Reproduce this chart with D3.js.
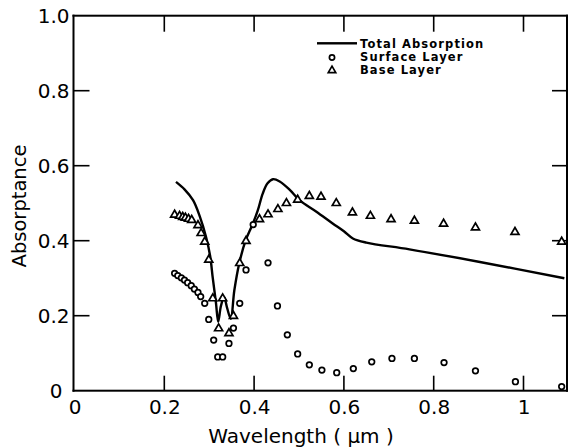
<!DOCTYPE html>
<html>
<head>
<meta charset="utf-8">
<script src="https://cdn.jsdelivr.net/npm/d3@7"></script>
<style>
  body { margin: 0; background: #fff; }
  svg { display: block; }
  text { font-family: "DejaVu Sans", sans-serif; fill: #000; }
</style>
</head>
<body>
<svg id="chart" width="569" height="448"></svg>
<script>
// Total absorption curve (wavelength um, absorptance)
const totalWl = [0.226, 0.245, 0.264, 0.279, 0.293, 0.302, 0.308, 0.315, 0.320, 0.326, 0.333, 0.340, 0.348, 0.356, 0.367, 0.381, 0.396, 0.408, 0.419, 0.430, 0.442, 0.457, 0.480, 0.501, 0.538, 0.575, 0.600, 0.620, 0.650, 0.746, 0.900, 1.091];
const totalAbs = [0.557, 0.537, 0.508, 0.465, 0.410, 0.360, 0.300, 0.235, 0.184, 0.225, 0.250, 0.220, 0.192, 0.268, 0.340, 0.400, 0.442, 0.480, 0.525, 0.553, 0.564, 0.558, 0.535, 0.508, 0.478, 0.446, 0.425, 0.406, 0.395, 0.377, 0.344, 0.300];

// Surface layer (circles)
const surfWl = [0.223, 0.230, 0.238, 0.245, 0.252, 0.260, 0.267, 0.275, 0.281, 0.290, 0.299, 0.310, 0.319, 0.330, 0.344, 0.354, 0.368, 0.382, 0.398, 0.431, 0.452, 0.474, 0.497, 0.523, 0.551, 0.584, 0.621, 0.662, 0.707, 0.757, 0.823, 0.893, 0.982, 1.085];
const surfAbs = [0.313, 0.307, 0.301, 0.295, 0.288, 0.280, 0.271, 0.262, 0.251, 0.233, 0.190, 0.135, 0.090, 0.090, 0.126, 0.167, 0.233, 0.322, 0.443, 0.341, 0.226, 0.149, 0.098, 0.069, 0.055, 0.048, 0.059, 0.077, 0.086, 0.086, 0.075, 0.053, 0.024, 0.011];

// Base layer (triangles)
const baseWl = [0.223, 0.234, 0.241, 0.247, 0.254, 0.261, 0.275, 0.282, 0.290, 0.299, 0.308, 0.321, 0.330, 0.344, 0.354, 0.368, 0.382, 0.412, 0.431, 0.453, 0.472, 0.497, 0.523, 0.549, 0.583, 0.619, 0.659, 0.705, 0.757, 0.822, 0.893, 0.981, 1.085];
const baseAbs = [0.469, 0.466, 0.463, 0.461, 0.458, 0.455, 0.441, 0.420, 0.397, 0.349, 0.246, 0.166, 0.246, 0.153, 0.199, 0.340, 0.399, 0.457, 0.470, 0.484, 0.500, 0.509, 0.519, 0.517, 0.500, 0.475, 0.466, 0.457, 0.453, 0.445, 0.435, 0.423, 0.397];

const xTicks = [0, 0.2, 0.4, 0.6, 0.8, 1];
const yTicks = [0, 0.2, 0.4, 0.6, 0.8, 1.0];
const legendLabels = ["Total Absorption", "Surface Layer", "Base Layer"];

const svg = d3.select("#chart");
const plotLeft = 74.5, plotRight = 567, plotTop = 15.7, plotBottom = 390.7;

const x = d3.scaleLinear().domain([0, 1]).range([plotLeft, plotLeft + 449]);
const y = d3.scaleLinear().domain([0, 1]).range([plotBottom, plotTop]);

const tickLen = 15;
const frameW = 2;
const tickW = 1.6;

// frame as four filled bars
const frame = svg.append("g").attr("class", "frame");
frame.append("rect").attr("x", plotLeft - 2).attr("y", plotTop - 1).attr("width", plotRight - plotLeft + 3).attr("height", frameW).attr("fill", "#000");
frame.append("rect").attr("x", plotLeft - 2).attr("y", plotBottom - 1).attr("width", plotRight - plotLeft + 3).attr("height", frameW).attr("fill", "#000");
frame.append("rect").attr("x", plotLeft - 2).attr("y", plotTop - 1).attr("width", frameW).attr("height", plotBottom - plotTop + 2).attr("fill", "#000");
frame.append("rect").attr("x", plotRight - 1).attr("y", plotTop - 1).attr("width", frameW).attr("height", plotBottom - plotTop + 2).attr("fill", "#000");

// inward tick marks on all four sides
frame.selectAll(".tb").data(xTicks.slice(1)).enter().append("rect")
  .attr("x", d => x(d) - tickW / 2).attr("y", plotBottom - tickLen)
  .attr("width", tickW).attr("height", tickLen).attr("fill", "#000");
frame.selectAll(".tt").data(xTicks.slice(1)).enter().append("rect")
  .attr("x", d => x(d) - tickW / 2).attr("y", plotTop)
  .attr("width", tickW).attr("height", tickLen + 1).attr("fill", "#000");
frame.selectAll(".tl").data(yTicks.slice(1, 5)).enter().append("rect")
  .attr("x", plotLeft - 1).attr("y", d => y(d) - tickW / 2)
  .attr("width", tickLen + 1).attr("height", tickW).attr("fill", "#000");
frame.selectAll(".tr").data(yTicks.slice(1, 5)).enter().append("rect")
  .attr("x", plotRight - tickLen).attr("y", d => y(d) - tickW / 2)
  .attr("width", tickLen).attr("height", tickW).attr("fill", "#000");

// tick labels from the scales' axes
svg.append("g")
  .attr("transform", `translate(0, ${plotBottom})`)
  .call(d3.axisBottom(x).tickValues(xTicks).tickSize(0).tickPadding(9)
    .tickFormat(d => d === 0 ? "0" : d === 1 ? "1" : d3.format(".1f")(d)))
  .call(g => g.select(".domain").remove())
  .call(g => g.selectAll("line").remove())
  .call(g => g.selectAll("text").style("font-size", "20px"));

svg.append("g")
  .attr("transform", `translate(${plotLeft - 1}, 0)`)
  .call(d3.axisLeft(y).tickValues(yTicks).tickSize(0).tickPadding(4)
    .tickFormat(d => d === 0 ? "0" : d3.format(".1f")(d)))
  .call(g => g.select(".domain").remove())
  .call(g => g.selectAll("line").remove())
  .call(g => g.selectAll("text").style("font-size", "20px"))
  .call(g => g.selectAll(".tick").filter(d => d === 0).select("text").attr("x", -11));

// axis titles
svg.append("text")
  .attr("transform", "translate(26, 206) rotate(-90)")
  .attr("text-anchor", "middle")
  .style("font-size", "19.5px")
  .text("Absorptance");

svg.append("text")
  .attr("x", 301).attr("y", 443)
  .attr("text-anchor", "middle")
  .style("font-size", "20px")
  .text("Wavelength ( \u03bcm )");

// total absorption line
const total = totalWl.map((d, i) => [d, totalAbs[i]]);
svg.append("path")
  .datum(total)
  .attr("fill", "none")
  .attr("stroke", "#000")
  .attr("stroke-width", 2.4)
  .attr("d", d3.line().x(d => x(d[0])).y(d => y(d[1])).curve(d3.curveCatmullRom.alpha(0.5)));

// surface layer circles
svg.selectAll(".surf")
  .data(surfWl.map((d, i) => [d, surfAbs[i]]))
  .enter().append("circle")
  .attr("class", "surf")
  .attr("cx", d => x(d[0]))
  .attr("cy", d => y(d[1]))
  .attr("r", 2.8)
  .attr("fill", "#fff")
  .attr("stroke", "#000")
  .attr("stroke-width", 1.7);

// base layer triangles
const tri = (s) => {
  const h = s * Math.sqrt(3) / 2;
  return `M0,${-h * 2 / 3}L${s / 2},${h / 3}L${-s / 2},${h / 3}Z`;
};
svg.selectAll(".base")
  .data(baseWl.map((d, i) => [d, baseAbs[i]]))
  .enter().append("path")
  .attr("class", "base")
  .attr("transform", d => `translate(${x(d[0])}, ${y(d[1])})`)
  .attr("d", tri(8))
  .attr("fill", "#fff")
  .attr("stroke", "#000")
  .attr("stroke-width", 1.7)
  .attr("stroke-linejoin", "miter");

// legend
const legend = svg.append("g");
legend.append("rect")
  .attr("x", 317).attr("y", 42.1).attr("width", 40).attr("height", 2.4)
  .attr("fill", "#000");
legend.append("circle")
  .attr("cx", 332).attr("cy", 57.5).attr("r", 2.6)
  .attr("fill", "#fff").attr("stroke", "#000").attr("stroke-width", 1.7);
legend.append("path")
  .attr("transform", "translate(332, 70.5)")
  .attr("d", tri(7.5))
  .attr("fill", "#fff").attr("stroke", "#000").attr("stroke-width", 1.7);
legend.selectAll(".lt")
  .data(legendLabels)
  .enter().append("text")
  .attr("class", "lt")
  .attr("x", 360)
  .attr("y", (d, i) => 48 + i * 13)
  .style("font-size", "11.5px")
  .style("font-weight", "bold")
  .style("letter-spacing", "1.1px")
  .text(d => d);
</script>
</body>
</html>
